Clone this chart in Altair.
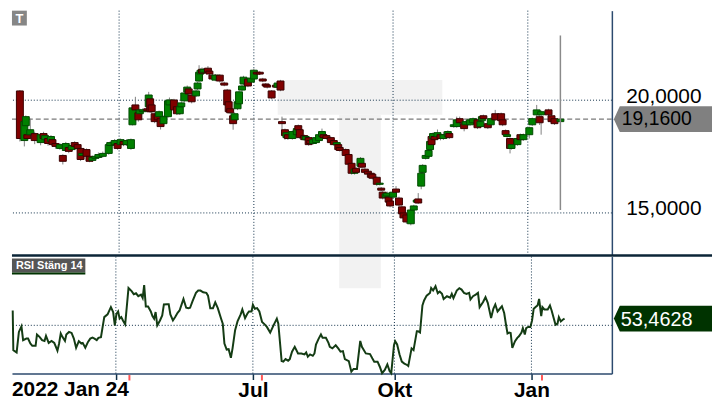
import altair as alt
import pandas as pd

# ---------------- data ----------------
# candles: calendar day offset from 2022-01-24, open / high / low / close
day = [0, 3, 4, 5, 7, 10, 14, 16, 17, 19,
       21, 22, 24, 27, 29, 31, 33, 35, 37, 39,
       41, 42, 45, 47, 49, 51, 53, 56, 60, 61,
       64, 66, 68, 70, 72, 75, 76, 78, 80, 81,
       83, 86, 87, 88, 89, 91, 93, 94, 95, 97,
       100, 101, 104, 106, 108, 109, 111, 113, 114, 116,
       119, 120, 121, 122, 123, 124, 127, 128, 130, 132,
       135, 138, 140, 141, 142, 144, 145, 147, 148, 150,
       151, 154, 156, 158, 160, 162, 164, 166, 167, 170,
       173, 174, 176, 177, 179, 180, 181, 184, 187, 188,
       189, 192, 193, 195, 196, 198, 200, 202, 204, 205,
       207, 210, 212, 214, 215, 216, 220, 222, 224, 226,
       227, 230, 231, 233, 235, 237, 238, 241, 243, 244,
       245, 247, 248, 249, 250, 252, 254, 256, 258, 259,
       261, 264, 266, 268, 269, 271, 272, 274, 276, 277,
       278, 279, 280, 282, 284, 286, 289, 290, 293, 295,
       297, 300, 301, 304, 306, 309, 311, 312, 313, 316,
       318, 321, 325, 326, 328, 329, 331, 332, 336, 338,
       340, 344, 346, 349, 351, 352, 357, 359, 361, 365]

open_ = [20.41, 18.21, 18.87, 18.47, 18.47, 18.52, 18.12, 18.52, 18.25, 18.30,
         18.17, 18.25, 18.08, 17.86, 17.55, 17.77, 17.90, 17.81, 18.12, 18.03,
         17.86, 17.55, 17.81, 17.51, 17.33, 17.42, 17.46, 17.51, 17.64, 17.99,
         18.03, 18.08, 18.03, 18.17, 18.03, 17.86, 18.91, 19.79, 19.44, 19.40,
         19.49, 19.62, 19.71, 20.06, 19.79, 19.40, 19.35, 19.27, 19.18, 18.96,
         19.27, 19.79, 20.01, 19.71, 19.40, 19.71, 19.97, 20.37, 20.50, 20.23,
         20.19, 20.50, 20.85, 21.16, 21.37, 21.24, 21.42, 21.29, 21.11, 20.89,
         21.11, 20.76, 20.45, 19.93, 19.62, 19.31, 19.13, 19.62, 19.84, 20.45,
         20.72, 20.94, 20.80, 20.94, 21.24, 21.24, 20.94, 20.72, 20.67, 20.41,
         20.67, 20.58, 20.85, 19.05, 18.69, 18.34, 18.47, 18.30, 18.47, 18.87,
         18.69, 18.43, 18.25, 18.34, 18.21, 18.08, 18.12, 18.21, 18.39, 18.47,
         18.43, 18.34, 18.21, 18.03, 18.03, 17.90, 17.81, 17.59, 17.20, 16.76,
         16.98, 17.07, 17.20, 16.94, 16.85, 16.76, 16.72, 16.58, 16.27, 16.10,
         15.92, 15.70, 15.75, 15.70, 15.53, 15.70, 16.06, 15.66, 15.27, 15.00,
         14.91, 14.52, 15.13, 15.48, 15.62, 16.19, 16.80, 17.42, 17.51, 17.81,
         18.39, 18.30, 18.39, 18.39, 18.47, 18.30, 18.39, 18.52, 18.83, 18.83,
         19.18, 18.96, 18.91, 18.91, 19.00, 19.13, 18.83, 19.09, 19.31, 18.96,
         18.91, 19.40, 19.40, 19.13, 18.65, 18.39, 18.30, 17.86, 18.03, 18.47,
         18.25, 18.47, 18.91, 19.35, 19.27, 19.35, 19.57, 19.31, 19.18, 19.05]

high = [20.45, 19.10, 19.32, 18.55, 19.18, 18.60, 18.52, 18.60, 18.50, 18.38,
        18.45, 18.30, 18.15, 18.10, 17.60, 18.15, 17.95, 18.05, 18.18, 18.08,
        17.92, 17.70, 17.86, 17.55, 17.52, 17.60, 17.68, 17.72, 18.08, 18.18,
        18.28, 18.14, 18.30, 18.22, 18.27, 18.30, 19.75, 20.15, 19.50, 19.62,
        19.64, 19.68, 20.37, 20.12, 19.84, 19.46, 19.40, 19.54, 19.22, 19.32,
        20.05, 20.12, 20.06, 19.76, 19.76, 19.94, 20.40, 20.65, 20.55, 20.28,
        20.47, 20.82, 21.55, 21.40, 21.45, 21.42, 21.51, 21.34, 21.16, 21.16,
        21.16, 20.82, 20.50, 19.98, 19.67, 19.36, 19.46, 19.98, 20.42, 20.70,
        21.08, 21.00, 21.04, 21.40, 21.30, 21.28, 20.99, 20.76, 20.72, 20.45,
        20.72, 20.82, 20.90, 19.27, 18.74, 18.62, 18.52, 18.66, 18.80, 18.92,
        18.74, 18.48, 18.44, 18.38, 18.26, 18.30, 18.39, 18.52, 18.74, 18.52,
        18.48, 18.38, 18.26, 18.17, 18.08, 17.95, 17.86, 17.64, 17.25, 16.99,
        17.03, 17.48, 17.25, 16.99, 16.90, 16.82, 16.77, 16.63, 16.37, 16.15,
        15.97, 15.90, 15.95, 15.75, 15.58, 15.97, 16.19, 15.72, 15.32, 15.05,
        14.96, 15.20, 15.36, 15.62, 15.88, 16.82, 17.16, 17.60, 17.82, 18.22,
        18.44, 18.57, 18.44, 18.70, 18.52, 18.60, 18.66, 18.57, 18.96, 19.27,
        19.27, 19.01, 19.10, 19.18, 19.23, 19.18, 19.10, 19.32, 19.36, 19.01,
        19.23, 19.57, 19.45, 19.18, 18.70, 18.52, 18.35, 18.08, 18.35, 18.52,
        18.52, 18.83, 19.23, 19.79, 19.32, 19.54, 19.62, 19.36, 19.23, 19.21]

low = [18.17, 17.95, 18.80, 18.25, 18.42, 18.05, 18.00, 18.25, 18.20, 17.98,
       18.10, 17.95, 17.85, 17.80, 17.15, 17.70, 17.65, 17.75, 17.90, 17.80,
       17.30, 17.50, 17.45, 17.25, 17.28, 17.38, 17.42, 17.46, 17.58, 17.92,
       17.98, 17.80, 17.95, 17.96, 17.97, 17.80, 18.88, 19.50, 19.05, 19.35,
       19.44, 19.46, 19.66, 19.44, 19.42, 18.98, 19.08, 19.20, 18.70, 18.90,
       19.22, 19.74, 19.50, 19.34, 19.35, 19.66, 19.92, 20.32, 20.22, 19.86,
       20.14, 20.45, 20.80, 21.10, 21.15, 21.18, 21.18, 21.10, 20.88, 20.84,
       20.78, 20.62, 19.74, 19.42, 19.38, 18.69, 19.08, 19.56, 19.78, 20.40,
       20.66, 20.58, 20.74, 20.88, 21.10, 21.12, 20.80, 20.58, 20.52, 20.04,
       20.54, 20.54, 20.40, 18.69, 18.25, 18.28, 18.24, 18.25, 18.42, 18.64,
       18.28, 18.20, 18.20, 17.98, 18.02, 18.03, 18.07, 18.16, 18.34, 18.28,
       18.25, 18.06, 17.98, 17.98, 17.76, 17.72, 17.50, 17.10, 16.70, 16.70,
       16.75, 17.00, 16.98, 16.74, 16.66, 16.52, 16.48, 16.20, 16.22, 15.95,
       15.60, 15.65, 15.70, 15.42, 15.25, 15.65, 15.88, 15.30, 14.90, 14.72,
       14.52, 14.45, 15.08, 15.43, 15.40, 16.05, 16.75, 17.37, 17.46, 17.76,
       17.98, 18.25, 18.20, 18.34, 18.22, 18.24, 18.34, 18.28, 18.78, 18.78,
       18.95, 18.62, 18.86, 18.86, 18.95, 18.72, 18.78, 19.04, 19.13, 18.72,
       18.86, 19.08, 19.04, 18.85, 18.42, 18.34, 17.64, 17.81, 17.98, 18.20,
       18.20, 18.30, 18.86, 19.30, 18.90, 18.47, 19.30, 19.00, 18.90, 18.98]

close = [18.30, 19.05, 19.27, 18.30, 18.69, 18.21, 18.47, 18.30, 18.43, 18.08,
         18.39, 18.03, 17.95, 18.03, 17.29, 18.08, 17.73, 17.99, 17.95, 17.86,
         17.37, 17.64, 17.51, 17.29, 17.46, 17.51, 17.59, 17.64, 18.03, 18.12,
         18.21, 17.86, 18.25, 18.03, 18.21, 18.25, 19.66, 19.57, 19.13, 19.57,
         19.57, 19.53, 20.23, 19.49, 19.49, 19.05, 19.13, 19.49, 18.83, 19.27,
         19.97, 20.01, 19.57, 19.40, 19.71, 19.88, 20.32, 20.58, 20.28, 19.93,
         20.41, 20.76, 21.24, 21.33, 21.20, 21.37, 21.24, 21.16, 20.94, 21.11,
         20.85, 20.67, 19.79, 19.49, 19.44, 18.96, 19.40, 19.93, 20.37, 20.63,
         21.02, 20.63, 20.98, 21.33, 21.16, 21.16, 20.85, 20.63, 20.58, 20.10,
         20.58, 20.76, 20.45, 18.96, 18.43, 18.56, 18.30, 18.61, 18.74, 18.69,
         18.34, 18.25, 18.39, 18.03, 18.08, 18.25, 18.34, 18.47, 18.61, 18.34,
         18.30, 18.12, 18.03, 18.12, 17.81, 17.77, 17.55, 17.16, 16.76, 16.94,
         16.80, 17.42, 17.03, 16.80, 16.72, 16.58, 16.54, 16.27, 16.32, 16.01,
         15.66, 15.84, 15.88, 15.48, 15.31, 15.92, 15.92, 15.35, 14.96, 14.78,
         14.60, 15.13, 15.31, 15.57, 15.44, 16.76, 17.11, 17.55, 17.77, 18.17,
         18.03, 18.52, 18.25, 18.56, 18.30, 18.47, 18.61, 18.34, 18.91, 19.13,
         19.00, 18.74, 19.05, 19.13, 19.18, 18.78, 19.05, 19.27, 19.18, 18.78,
         19.18, 19.13, 19.09, 18.91, 18.47, 18.47, 17.86, 18.03, 18.30, 18.25,
         18.47, 18.78, 19.18, 19.57, 19.00, 19.49, 19.35, 19.05, 18.96, 19.16]

# RSI (close, 14): day offset and value
rsi_day = [-1.5, -1.1, 1.1, 2.6, 4.3, 5.4, 7.6, 8.7, 10.2, 11.5,
           13.7, 14.6, 16.3, 18.0, 19.6, 20.6, 22.4, 24.3, 26.1, 28.2,
           29.3, 30.4, 31.5, 33.2, 34.1, 35.9, 37.6, 39.1, 40.6, 42.4,
           44.1, 45.0, 46.7, 48.5, 50.0, 51.5, 52.8, 54.3, 55.4, 57.1,
           59.3, 61.5, 63.7, 65.2, 66.3, 67.4, 68.5, 69.5, 70.6, 71.7,
           73.2, 75.4, 77.6, 78.9, 80.4, 81.9, 83.7, 84.8, 85.8, 86.9,
           88.4, 90.2, 91.3, 92.4, 93.4, 94.5, 96.3, 97.8, 98.9, 101.0,
           102.1, 103.2, 104.9, 106.5, 108.0, 109.3, 110.8, 111.9, 113.7, 115.2,
           116.3, 118.0, 120.2, 121.7, 123.2, 125.0, 127.1, 128.2, 129.7, 131.5,
           133.0, 134.7, 136.9, 138.0, 139.1, 140.6, 141.9, 143.4, 144.5, 146.2,
           147.8, 149.9, 151.0, 152.8, 154.3, 155.4, 157.1, 158.0, 159.3, 160.8,
           162.3, 164.1, 165.8, 167.3, 169.5, 171.7, 173.9, 174.9, 177.1, 178.2,
           179.7, 181.4, 182.5, 184.0, 185.8, 188.0, 190.2, 192.3, 193.4, 194.5,
           196.0, 197.8, 198.9, 199.9, 201.7, 203.2, 204.3, 206.5, 208.2, 209.1,
           210.8, 213.0, 214.7, 216.2, 217.8, 219.1, 221.7, 223.4, 224.9, 227.1,
           229.3, 230.4, 233.0, 235.8, 237.3, 238.6, 240.8, 242.3, 243.8, 245.6,
           247.3, 248.8, 249.9, 251.7, 252.5, 253.8, 255.4, 256.9, 258.6, 260.4,
           261.2, 263.4, 264.7, 266.9, 267.7, 269.0, 270.6, 271.7, 273.4, 275.6,
           276.4, 277.7, 279.3, 280.8, 282.1, 283.6, 284.7, 286.9, 289.0, 290.1,
           291.2, 293.4, 295.1, 296.6, 298.2, 299.9, 301.6, 302.5, 304.2, 306.0,
           307.5, 308.6, 310.8, 312.5, 314.0, 316.2, 317.7, 319.0, 320.5, 321.6,
           323.4, 324.9, 326.0, 327.1, 328.2, 329.2, 330.3, 332.1, 333.6, 334.7,
           336.4, 337.3, 338.6, 339.5, 340.8, 342.3, 343.4, 344.5, 345.6, 347.1,
           348.1, 349.5, 350.3, 351.6, 353.8, 355.3, 356.4, 359.0, 360.3, 361.2,
           362.5, 364.0, 365.0]

rsi = [57.6, 37.3, 36.1, 46.6, 49.5, 42.4, 43.2, 43.2, 40.7, 39.5,
       39.5, 45.3, 44.1, 42.4, 42.0, 44.6, 41.0, 42.0, 41.0, 37.0,
       40.7, 45.8, 44.1, 42.0, 45.3, 46.6, 46.1, 43.2, 38.5, 41.9,
       40.7, 41.0, 38.5, 41.5, 43.2, 43.7, 43.2, 42.4, 43.6, 43.9,
       54.2, 55.6, 59.3, 56.8, 50.0, 55.9, 57.1, 53.4, 54.2, 52.5,
       50.5, 69.1, 67.4, 65.9, 66.4, 64.9, 65.7, 64.0, 70.6, 59.6,
       59.6, 57.1, 54.7, 53.4, 56.8, 50.0, 52.5, 55.1, 60.7, 60.8,
       60.8, 55.6, 52.5, 54.4, 56.4, 57.6, 61.0, 63.5, 59.0, 58.8,
       59.0, 62.5, 66.6, 67.8, 67.8, 66.9, 66.6, 65.2, 58.8, 58.8,
       61.8, 58.8, 53.4, 50.8, 40.7, 37.6, 37.8, 33.4, 38.2, 47.5,
       52.0, 55.6, 58.1, 53.7, 55.9, 57.1, 57.1, 60.5, 58.5, 58.8,
       57.1, 51.7, 50.5, 49.2, 46.3, 50.0, 53.4, 50.8, 31.7, 31.4,
       32.7, 31.9, 32.7, 36.5, 39.0, 35.6, 35.6, 35.1, 36.1, 33.9,
       35.1, 34.4, 35.6, 40.2, 43.2, 45.3, 43.6, 43.6, 41.0, 39.0,
       38.2, 39.8, 38.2, 36.5, 36.8, 32.7, 31.7, 26.3, 27.7, 27.7,
       42.0, 39.0, 35.6, 35.3, 33.1, 31.4, 31.4, 28.8, 25.5, 27.2,
       30.0, 26.6, 25.5, 39.8, 41.9, 40.2, 35.1, 31.4, 30.4, 29.7,
       29.2, 38.2, 37.3, 47.0, 47.0, 46.3, 60.2, 62.7, 65.2, 66.6,
       69.1, 67.8, 70.0, 66.4, 67.3, 66.1, 63.5, 64.9, 64.2, 66.1,
       63.9, 67.8, 69.0, 68.3, 66.6, 66.1, 66.6, 63.2, 64.9, 65.7,
       66.6, 59.3, 61.8, 64.4, 61.5, 53.7, 58.5, 60.7, 57.1, 58.1,
       59.8, 56.3, 50.8, 45.8, 46.3, 46.1, 38.5, 41.9, 43.6, 44.4,
       46.3, 48.6, 45.3, 48.6, 49.2, 49.2, 52.5, 58.5, 59.3, 60.2,
       63.5, 54.7, 59.3, 58.1, 58.1, 60.2, 57.6, 50.3, 50.8, 54.2,
       52.0, 53.0, 53.4628]

quarter_dates = ["2022-04-01", "2022-07-01", "2022-10-03", "2023-01-02"]
marker_dates = ["2022-04-10", "2022-07-07", "2023-01-09"]
price_levels = [15, 20]
rsi_levels = [50]
cursor_top, cursor_bottom = 22.87, 15.13
start_label = "2022 Jan 24"
rsi_title = "RSI Stäng 14"
logo_text = "T"

# ---------------- build tables ----------------
base = pd.Timestamp("2022-01-24")
candles = pd.DataFrame({
    "date": base + pd.to_timedelta(day, unit="D"),
    "open": open_, "high": high, "low": low, "close": close,
})
rsi_df = pd.DataFrame({"date": base + pd.to_timedelta(rsi_day, unit="D"), "rsi": rsi})

last_c = candles.iloc[[-1]].copy()
last_c["label"] = last_c["close"].map(lambda v: f"{v:.4f}".replace(".", ","))
last_c["top"] = cursor_top
last_c["bottom"] = cursor_bottom
last_r = rsi_df.iloc[[-1]].copy()
last_r["label"] = last_r["rsi"].map(lambda v: f"{v:.4f}".replace(".", ","))

qdf = pd.DataFrame({"date": pd.to_datetime(quarter_dates)})
mdf = pd.DataFrame({"date": pd.to_datetime(marker_dates)})
pdf = pd.DataFrame({"price": price_levels})
rdf = pd.DataFrame({"rsi": rsi_levels})
first_c = candles.iloc[[0]].copy()
first_c["label"] = start_label
one = pd.DataFrame({"k": [0]})

# ---------------- styling ----------------
W, H_MAIN, H_RSI = 605, 246, 118
RIGHT = 706            # right edge of the whole drawing (fits the 722px page)
FONT = "Liberation Sans"
GRID = "#0f3049"
AXIS = "#2c4a6e"
WM = "#f2f2f2"
GREEN, GREEN_S = "#008000", "#004a00"
RED, RED_S = "#800000", "#3a0000"
WICK = "#808080"
# price tag: tip at x=607, body to x=706 (99 px wide, 26 px tall)
BADGE = "M -1 0 L -0.879 -0.2626 L 1 -0.2626 L 1 0.2626 L -0.879 0.2626 Z"
BADGE_SIZE = 99 * 99
BADGE_X = 656.5

x_scale = alt.Scale(domain=[alt.DateTime(year=2022, month=1, date=22),
                            alt.DateTime(year=2023, month=2, date=24, hours=10)])
y_scale = alt.Scale(domain=[13.153, 23.971], nice=False, zero=False)
r_scale = alt.Scale(domain=[25.3, 85.2], nice=False, zero=False)

price_axis = alt.Axis(orient="right", values=price_levels, grid=False, ticks=False,
                      domain=True, domainColor=AXIS, domainWidth=1.5,
                      labelExpr="replace(format(datum.value, '.4f'), '.', ',')",
                      labelFont=FONT, labelFontSize=21, labelColor="#000000",
                      labelPadding=14, labelOffset=-4, title=None)

x_axis = alt.Axis(
    values=[alt.DateTime(year=2022, month=4, date=1), alt.DateTime(year=2022, month=7, date=1),
            alt.DateTime(year=2022, month=10, date=3), alt.DateTime(year=2023, month=1, date=2)],
    labelExpr="month(datum.value) == 6 ? 'Jul' : month(datum.value) == 9 ? 'Okt' : month(datum.value) == 0 ? 'Jan' : ''",
    grid=False, tickColor=GRID, tickSize=6, tickWidth=1.5,
    domainColor=AXIS, domainWidth=1.5, labelFont=FONT, labelFontSize=21,
    labelFontWeight="bold", labelColor="#000000", labelPadding=0.5,
    labelFlush=False, labelOverlap=False, title=None)
rsi_axis = alt.Axis(orient="right", labels=False, ticks=False, grid=False, domain=True,
                    domainColor=AXIS, domainWidth=1.5, title=None)


def XM():  # x in price panel (no axis)
    return alt.X("date:T", scale=x_scale, axis=None)


def XR():  # x in RSI panel (shared bottom axis)
    return alt.X("date:T", scale=x_scale, axis=x_axis)


def YP(field):
    return alt.Y(field, scale=y_scale, axis=price_axis)


def YR(field):
    return alt.Y(field, scale=r_scale, axis=rsi_axis)


# ---------------- main (price) panel ----------------
wm_bar = alt.Chart(one).mark_rect(color=WM).encode(
    x=alt.value(268), x2=alt.value(434), y=alt.value(70), y2=alt.value(105))
wm_stem = alt.Chart(one).mark_rect(color=WM).encode(
    x=alt.value(330), x2=alt.value(372), y=alt.value(105), y2=alt.value(H_MAIN))

vgrid = alt.Chart(qdf).mark_rule(color=GRID, strokeDash=[1, 2], strokeWidth=1).encode(x=XM())
hgrid = alt.Chart(pdf).mark_rule(color=GRID, strokeDash=[1, 2], strokeWidth=1).encode(
    y=YP("price:Q"))

close_line = alt.Chart(last_c).mark_rule(color="#7a7a7a", strokeDash=[5, 3], strokeWidth=1.3).encode(
    y=YP("close:Q"))

wicks = alt.Chart(candles).mark_rule(color=WICK, strokeWidth=1).encode(
    x=XM(), y=YP("low:Q"), y2="high:Q")

up = alt.datum.close >= alt.datum.open
bodies = alt.Chart(candles).mark_bar(size=7, strokeWidth=1).encode(
    x=XM(),
    y=YP("open:Q"), y2="close:Q",
    fill=alt.condition(up, alt.value(GREEN), alt.value(RED)),
    stroke=alt.condition(up, alt.value(GREEN_S), alt.value(RED_S)),
)

cursor = alt.Chart(last_c).mark_rule(color="#8a8a8a", strokeWidth=1.5).encode(
    x=XM(), y=YP("top:Q"), y2="bottom:Q")

price_badge = alt.Chart(last_c).mark_point(shape=BADGE, size=BADGE_SIZE, filled=True,
                                           color="#808080", opacity=1, strokeWidth=0).encode(
    x=alt.value(BADGE_X), y=YP("close:Q"))
price_badge_txt = alt.Chart(last_c).mark_text(align="left", baseline="middle", font=FONT,
                                              fontSize=19.5, color="#000000").encode(
    x=alt.value(615), y=YP("close:Q"), text="label:N")

logo_box = alt.Chart(one).mark_rect(color="#868686").encode(
    x=alt.value(0), x2=alt.value(15), y=alt.value(0), y2=alt.value(15))
logo_txt = alt.Chart(one).mark_text(text=logo_text, font=FONT, fontSize=13, fontWeight="bold",
                                    color="#ffffff", baseline="middle", align="center").encode(
    x=alt.value(7.5), y=alt.value(8))

main = alt.layer(wm_bar, wm_stem, vgrid, hgrid, close_line, wicks, bodies, cursor,
                 price_badge, price_badge_txt, logo_box, logo_txt).properties(
    width=W, height=H_MAIN)

# ---------------- RSI panel ----------------
r_wm = alt.Chart(one).mark_rect(color=WM).encode(
    x=alt.value(330), x2=alt.value(372), y=alt.value(0), y2=alt.value(32))
r_vgrid = alt.Chart(qdf).mark_rule(color=GRID, strokeDash=[1, 2], strokeWidth=1).encode(x=XR())
r_hgrid = alt.Chart(rdf).mark_rule(color=GRID, strokeDash=[1, 2], strokeWidth=1).encode(
    y=YR("rsi:Q"))

rsi_line = alt.Chart(rsi_df).mark_line(color="#143c14", strokeWidth=2).encode(
    x=XR(), y=YR("rsi:Q"))

separator = alt.Chart(one).mark_rule(color="#0b2537", strokeWidth=2.5).encode(
    x=alt.value(0), x2=alt.value(RIGHT), y=alt.value(-1))

rsi_box = alt.Chart(one).mark_rect(color="#555555").encode(
    x=alt.value(0), x2=alt.value(74), y=alt.value(2), y2=alt.value(16))
rsi_box_line = alt.Chart(one).mark_rect(color="#003300").encode(
    x=alt.value(0), x2=alt.value(74), y=alt.value(16), y2=alt.value(18))
rsi_box_txt = alt.Chart(one).mark_text(text=rsi_title, font=FONT, fontSize=11, fontWeight="bold",
                                       color="#ffffff", align="left", baseline="middle").encode(
    x=alt.value(4), y=alt.value(9.5))

markers = alt.Chart(mdf).mark_rule(color="#ff5555", strokeWidth=2).encode(
    x=XR(), y=alt.value(119.5), y2=alt.value(125))

rsi_badge = alt.Chart(last_r).mark_point(shape=BADGE, size=BADGE_SIZE, filled=True,
                                         color="#003300", opacity=1, strokeWidth=0).encode(
    x=alt.value(BADGE_X), y=YR("rsi:Q"))
rsi_badge_txt = alt.Chart(last_r).mark_text(align="left", baseline="middle", font=FONT,
                                            fontSize=20, color="#ffffff", dy=1.5).encode(
    x=alt.value(614), y=YR("rsi:Q"), text="label:N")

start_txt = alt.Chart(first_c).mark_text(align="left", baseline="alphabetic", font=FONT,
                                         fontSize=21, fontWeight="bold", color="#000000",
                                         dx=-3).encode(
    x=XR(), y=alt.value(H_RSI + 23), text="label:N")

rsi_panel = alt.layer(r_wm, r_vgrid, r_hgrid, rsi_line, separator, rsi_box, rsi_box_line,
                      rsi_box_txt, markers, rsi_badge, rsi_badge_txt, start_txt).properties(
    width=W, height=H_RSI)

chart = alt.vconcat(main, rsi_panel, spacing=2, bounds="flush").properties(
    padding=0, background="#ffffff"
).configure_view(strokeWidth=0)

chart.save("out.html", embed_options={"renderer": "svg", "actions": False})
